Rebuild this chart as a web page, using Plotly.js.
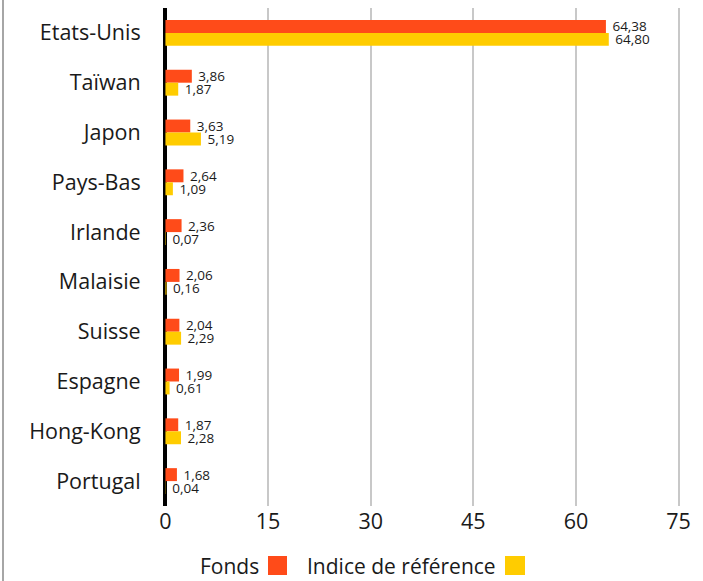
<!DOCTYPE html>
<html>
<head>
<meta charset="utf-8">
<script src="https://cdn.plot.ly/plotly-3.0.1.min.js"></script>
<style>
html,body{margin:0;padding:0;background:#fff;}
#wrap{position:relative;width:703px;height:581px;}
#chart{width:703px;height:581px;}
#edge{position:absolute;left:2px;top:0;width:2px;height:581px;background:#a6a6a6;}
</style>
</head>
<body>
<div id="wrap"><div id="chart"></div><div id="edge"></div></div>
<script>
const categories = ["Etats-Unis","Taïwan","Japon","Pays-Bas","Irlande","Malaisie","Suisse","Espagne","Hong-Kong","Portugal"];
const fonds = [64.38,3.86,3.63,2.64,2.36,2.06,2.04,1.99,1.87,1.68];
const indice = [64.80,1.87,5.19,1.09,0.07,0.16,2.29,0.61,2.28,0.04];
const seriesNames = ["Fonds","Indice de référence"];
const xTicks = [0,15,30,45,60,75];

const FONT = "'Open Sans', sans-serif";
const RED = "#ff4b19";
const YEL = "#ffcc00";
const FS = 21.5;

function mk(name, vals, color){
  return {
    type:'bar', orientation:'h', name:name,
    y:categories, x:vals,
    marker:{color:color},
    texttemplate:' %{x:.2f}', textposition:'outside', constraintext:'none',
    textfont:{family:FONT,size:13.5,color:'#1a1a1a'},
    cliponaxis:false, hoverinfo:'skip'
  };
}

const data = [mk(seriesNames[0], fonds, RED), mk(seriesNames[1], indice, YEL)];

const layout = {
  width:703, height:581,
  margin:{l:162,r:21,t:8,b:75},
  paper_bgcolor:'#fff', plot_bgcolor:'#fff',
  separators:', ',
  barmode:'group', bargap:0.48, bargroupgap:0,
  showlegend:false,
  font:{family:FONT,size:FS,color:'#1a1a1a'},
  xaxis:{
    range:[-0.5,75.5], tickvals:xTicks, ticktext:xTicks.map(String),
    showgrid:true, gridcolor:'#c8c8c8', gridwidth:2,
    zeroline:true, zerolinecolor:'#000', zerolinewidth:4,
    showline:false, ticks:'',
    tickfont:{family:FONT,size:FS,color:'#1a1a1a'}, fixedrange:true
  },
  yaxis:{
    autorange:'reversed', showgrid:false, zeroline:false, showline:false,
    ticks:'outside', ticklen:16, tickcolor:'rgba(0,0,0,0)',
    tickfont:{family:FONT,size:FS,color:'#1a1a1a'}, fixedrange:true
  },
  annotations:[
    {xref:'paper',yref:'paper',x:0.1885,y:-0.1205,xanchor:'right',yanchor:'middle',borderpad:0,text:seriesNames[0],showarrow:false,font:{family:FONT,size:21,color:'#1a1a1a'}},
    {xref:'paper',yref:'paper',x:0.6442,y:-0.1205,xanchor:'right',yanchor:'middle',borderpad:0,text:seriesNames[1],showarrow:false,font:{family:FONT,size:21,color:'#1a1a1a'}}
  ],
  shapes:[
    {type:'rect',xref:'paper',yref:'paper',x0:0.2038,x1:0.2404,y0:-0.1386,y1:-0.1004,fillcolor:RED,line:{width:0}},
    {type:'rect',xref:'paper',yref:'paper',x0:0.6596,x1:0.6981,y0:-0.1386,y1:-0.1004,fillcolor:YEL,line:{width:0}}
  ]
};

Plotly.newPlot('chart', data, layout, {displayModeBar:false, staticPlot:true});
</script>
</body>
</html>
